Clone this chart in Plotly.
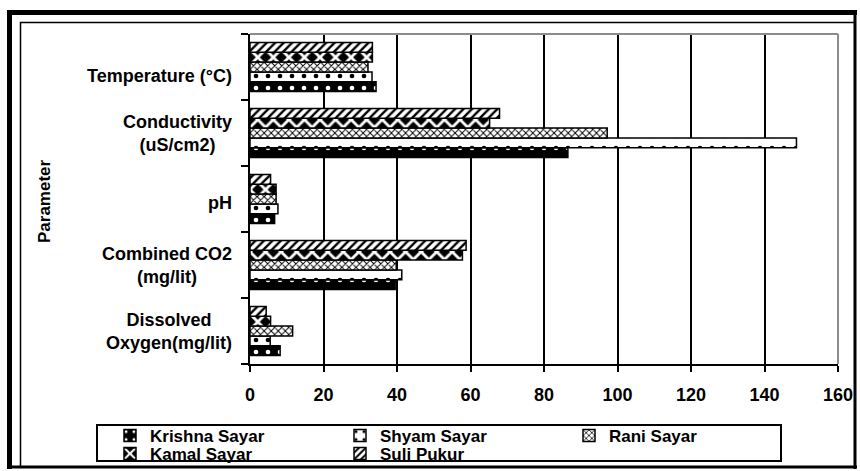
import plotly.graph_objects as go

# ---------------- data ----------------
categories = ["Temperature (°C)", "Conductivity<br>(uS/cm2)", "pH",
              "Combined CO2<br>(mg/lit)", "Dissolved<br>Oxygen(mg/lit)"]
series_names = ["Krishna Sayar", "Shyam Sayar", "Rani Sayar", "Kamal Sayar", "Suli Pukur"]
krishna = [34.3, 86.5, 6.7, 39.5, 8.2]
shyam = [33.2, 148.7, 7.6, 41.3, 5.5]
rani = [32.1, 97.2, 7.1, 39.8, 11.6]
kamal = [33.3, 65.2, 7.1, 57.8, 5.6]
suli = [33.3, 67.9, 5.6, 58.8, 4.4]
x_ticks = [0, 20, 40, 60, 80, 100, 120, 140, 160]
y_title = "Parameter"

values = [krishna, shyam, rani, kamal, suli]

# ---------------- geometry (pixels) ----------------
W, H = 860, 471
L, R, T, B = 250, 838, 34, 364
FONT = "Liberation Sans, Arial, sans-serif"


def px_x(p):
    return (p - L) / (R - L)


def px_y(p):
    return (B - p) / (B - T)


patterns = [
    dict(shape=".", bgcolor="black", fgcolor="white", size=12, solidity=0.12),
    dict(shape=".", bgcolor="white", fgcolor="black", size=12, solidity=0.12),
    dict(shape="x", bgcolor="white", fgcolor="black", size=5, solidity=0.35),
    dict(shape="x", bgcolor="black", fgcolor="white", size=11, solidity=0.45),
    dict(shape="/", bgcolor="white", fgcolor="black", size=6, solidity=0.4),
]

# legend grid: 3 columns, 2 rows (pixel positions of each entry)
legend_cols = [110, 340, 569]
legend_rows = [436, 454]
legend_ids = ["legend", "legend2", "legend3", "legend4", "legend5"]

fig = go.Figure()
for name, vals, pat, lg in zip(series_names, values, patterns, legend_ids):
    fig.add_trace(go.Bar(
        name=name, y=categories, x=vals, orientation="h",
        marker=dict(color=pat["bgcolor"], pattern=dict(fillmode="replace", **pat),
                    line=dict(color="black", width=1.5)),
        legend=lg,
    ))

label_shift = {"Temperature (°C)": -9, "pH": -4}
annotations = []
for c in categories:
    annotations.append(dict(
        xref="paper", yref="y", x=0, y=c, xshift=-16, yshift=label_shift.get(c, 0),
        xanchor="right", yanchor="middle", align="center", showarrow=False,
        text=c, font=dict(family=FONT, size=18, color="black", weight="bold"),
    ))
annotations.append(dict(
    xref="paper", yref="paper", x=px_x(44), y=px_y(201), textangle=-90,
    xanchor="center", yanchor="middle", showarrow=False, text=y_title,
    font=dict(family=FONT, size=17, color="black", weight="bold"),
))

shapes = [
    # plot-area border (grey, top & right)
    dict(type="line", xref="paper", yref="paper", x0=0, x1=1, y0=1, y1=1,
         line=dict(color="#8c8c8c", width=2), layer="above"),
    dict(type="line", xref="paper", yref="paper", x0=1, x1=1, y0=0, y1=1,
         line=dict(color="#8c8c8c", width=2), layer="above"),
    # legend box
    dict(type="rect", xref="paper", yref="paper", x0=px_x(97), x1=px_x(781),
         y0=px_y(461), y1=px_y(425), line=dict(color="black", width=2), layer="above"),
    # inner thin frame
    dict(type="rect", xref="paper", yref="paper", x0=px_x(20.5), x1=px_x(855),
         y0=px_y(467), y1=px_y(22.5), line=dict(color="black", width=1.5), layer="above"),
    # outer thick frame
    dict(type="line", xref="paper", yref="paper", x0=px_x(9.5), x1=px_x(9.5),
         y0=px_y(10), y1=px_y(469), line=dict(color="black", width=5), layer="above"),
    dict(type="line", xref="paper", yref="paper", x0=px_x(7), x1=px_x(857),
         y0=px_y(12.5), y1=px_y(12.5), line=dict(color="black", width=5), layer="above"),
    dict(type="line", xref="paper", yref="paper", x0=px_x(855), x1=px_x(855),
         y0=px_y(10), y1=px_y(469), line=dict(color="black", width=3), layer="above"),
    dict(type="line", xref="paper", yref="paper", x0=px_x(7), x1=px_x(857),
         y0=px_y(467), y1=px_y(467), line=dict(color="black", width=3), layer="above"),
]

legend_layout = {}
for i, lg in enumerate(legend_ids):
    col = legend_cols[i % 3]
    row = legend_rows[i // 3]
    legend_layout[lg] = dict(
        orientation="h", xref="container", yref="container",
        x=col / W, y=1 - row / H, xanchor="left", yanchor="middle",
        bgcolor="rgba(0,0,0,0)", borderwidth=0,
        font=dict(family=FONT, size=17, color="black", weight="bold"),
    )

fig.update_layout(
    width=W, height=H,
    margin=dict(l=L, r=W - R, t=T, b=H - B, autoexpand=False),
    paper_bgcolor="white", plot_bgcolor="white",
    barmode="group", bargap=0.26, bargroupgap=0,
    showlegend=True,
    xaxis=dict(range=[0, 160], tickvals=x_ticks, ticks="outside", ticklen=6,
               tickwidth=1.5, tickcolor="black", showline=True, linecolor="black",
               linewidth=2, showgrid=True, gridcolor="black", gridwidth=1.5,
               zeroline=False, ticklabelstandoff=7,
               tickfont=dict(family=FONT, size=18, color="black", weight="bold")),
    yaxis=dict(categoryorder="array", categoryarray=list(reversed(categories)),
               showticklabels=False, ticks="outside", tickson="boundaries",
               ticklen=7, tickwidth=1.5, tickcolor="black", showline=True,
               linecolor="black", linewidth=2, showgrid=False, zeroline=False),
    annotations=annotations,
    shapes=shapes,
    **legend_layout,
)

fig.write_html("out.html")
